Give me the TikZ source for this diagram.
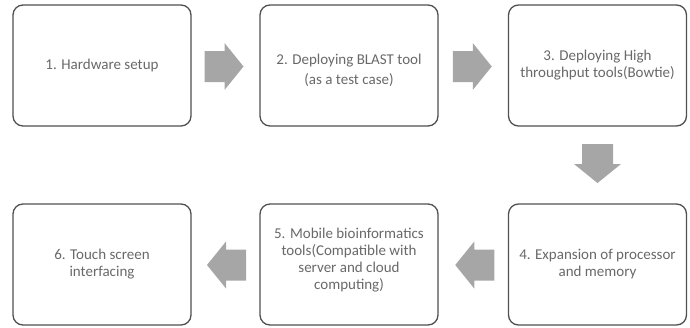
\documentclass[tikz,border=0pt]{standalone}
\usepackage{fontspec}
\setmainfont{Carlito}
\usetikzlibrary{calc}
\definecolor{boxline}{RGB}{80,80,80}
\definecolor{txtgray}{RGB}{105,105,105}
\definecolor{arrowgray}{RGB}{166,166,166}
\tikzset{
  stepbox/.style={draw=boxline, line width=1.3pt, rounded corners=10pt, fill=white,
    minimum width=178pt, minimum height=121pt, align=center, inner sep=2pt,
    text=txtgray, font=\fontsize{15}{17}\selectfont},
  blockarrow/.pic={\fill[arrowgray] (-19.5,-15.5) -- (0.5,-15.5) -- (0.5,-23.5) -- (19.5,0)
     -- (0.5,23.5) -- (0.5,15.5) -- (-19.5,15.5) -- cycle;}
}
\begin{document}
\begin{tikzpicture}[x=1pt,y=-1pt]
\useasboundingbox (0,0) rectangle (690,327);
\node[stepbox] (b1) at (102,65.5) {1. Hardware setup};
\node[stepbox] (b2) at (349,65.5) {\rule{0pt}{21pt}2. Deploying BLAST tool\\[3pt](as a test case)};
\node[stepbox] (b3) at (597.5,65.5) {3. Deploying High\\throughput tools(Bowtie)};
\node[stepbox] (b4) at (597.5,264.5) {4. Expansion of processor\\and memory};
\node[stepbox] (b5) at (349,264.5) {5. Mobile bioinformatics\\tools(Compatible with\\server and cloud\\computing)\rule[-12pt]{0pt}{0pt}};
\node[stepbox] (b6) at (102,264.5) {6. Touch screen\\interfacing};
\coordinate (a12) at ($(b1.east)!0.5!(b2.west)+(-1.5,1)$);
\coordinate (a23) at ($(b2.east)!0.5!(b3.west)+(-1,1)$);
\coordinate (a34) at ($(b3.south)!0.5!(b4.north)+(0,-1.5)$);
\coordinate (a45) at ($(b4.west)!0.5!(b5.east)+(1.5,0.5)$);
\coordinate (a56) at ($(b5.west)!0.5!(b6.east)+(1,0.5)$);
\pic at (a12) {blockarrow};
\pic at (a23) {blockarrow};
\pic[rotate=-90] at (a34) {blockarrow};
\pic[rotate=180] at (a45) {blockarrow};
\pic[rotate=180] at (a56) {blockarrow};
\end{tikzpicture}
\end{document}
